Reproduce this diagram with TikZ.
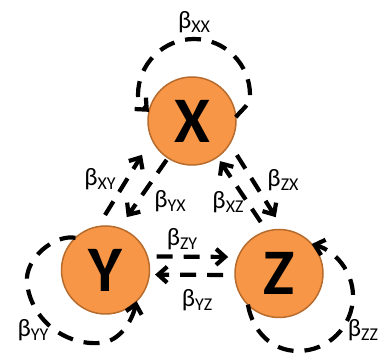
\documentclass[tikz,border=0pt]{standalone}
\usepackage{fontspec}
\setmainfont{Carlito}
\usetikzlibrary{arrows.meta}
\definecolor{nodefill}{RGB}{247,150,70}
\definecolor{nodeedge}{RGB}{183,107,45}
\newcommand\betasub[1]{β\raisebox{-4.5pt}{\fontsize{18}{18}\selectfont #1}}
\begin{document}
\begin{tikzpicture}[x=1pt,y=1pt,
  var/.style={circle, fill=nodefill, draw=nodeedge, line width=1.5pt, minimum size=88pt, inner sep=0pt, outer sep=0pt, font=\fontsize{65}{65}\selectfont\bfseries},
  dashline/.style={line width=4.2pt, dash pattern=on 16pt off 11pt},
  tip/.style={-{Straight Barb[length=9pt,width=16pt]}},
  lbl/.style={inner sep=0pt, font=\fontsize{25}{25}\selectfont}
]
\useasboundingbox (0,0) rectangle (378,356);
\node[var] (X) at (192,235) {X};
\node[var] (Y) at (105.5,86) {Y};
\node[var] (Z) at (279,82.5) {Z};

% self loops
\draw[dashline, tip] (X.5) .. controls (244,249) and (250,251) .. (250,261)
  .. controls (250,291.9) and (224.9,317) .. (194,317)
  .. controls (163.1,317) and (138,291.9) .. (138,261)
  .. controls (138,252) and (143,250) .. (X.168);
\draw[dashline, tip] (Y.133) .. controls (55,122) and (24.4,98) .. (27,73)
  .. controls (31,37) and (64,10.5) .. (100,13)
  .. controls (120,14.4) and (132,35) .. (Y.315);
\draw[dashline, tip] (Z.225) .. controls (252.5,25.1) and (271.3,5) .. (298,5)
  .. controls (328.4,5) and (353,29.6) .. (353,60)
  .. controls (353,84.5) and (335.2,105.1) .. (Z.42);

% pairs
\draw[dashline, tip, shorten <=13.7pt, shorten >=18.7pt] (Y.100) -- (X.204);
\draw[dashline, tip, shorten <=2.4pt, shorten >=13.4pt] (X.237) -- (Y.72);
\draw[dashline, tip, shorten <=11pt, shorten >=4.9pt] (Z.106) -- (X.305);
\draw[dashline, tip, shorten <=13.5pt, shorten >=14.8pt] (X.329) -- (Z.84);
\draw[dashline, tip, shorten <=9.3pt, shorten >=10pt] (Y.18) -- (Z.158);
\draw[dashline, tip, shorten <=12pt, shorten >=5.8pt] (Z.182) -- (Y.354);

% labels
\node[lbl] (lxx) at (194,334) {\betasub{XX}};
\node[lbl] (lxy) at (100,177) {\betasub{XY}};
\node[lbl] (lyx) at (170,155) {\betasub{YX}};
\node[lbl] (lzy) at (182,117) {\betasub{ZY}};
\node[lbl] (lyz) at (197,56) {\betasub{YZ}};
\node[lbl] (lxz) at (228,154) {\betasub{XZ}};
\node[lbl] (lzx) at (283,176) {\betasub{ZX}};
\node[lbl] (lyy) at (33,26) {\betasub{YY}};
\node[lbl] (lzz) at (363,26) {\betasub{ZZ}};
\end{tikzpicture}
\end{document}
